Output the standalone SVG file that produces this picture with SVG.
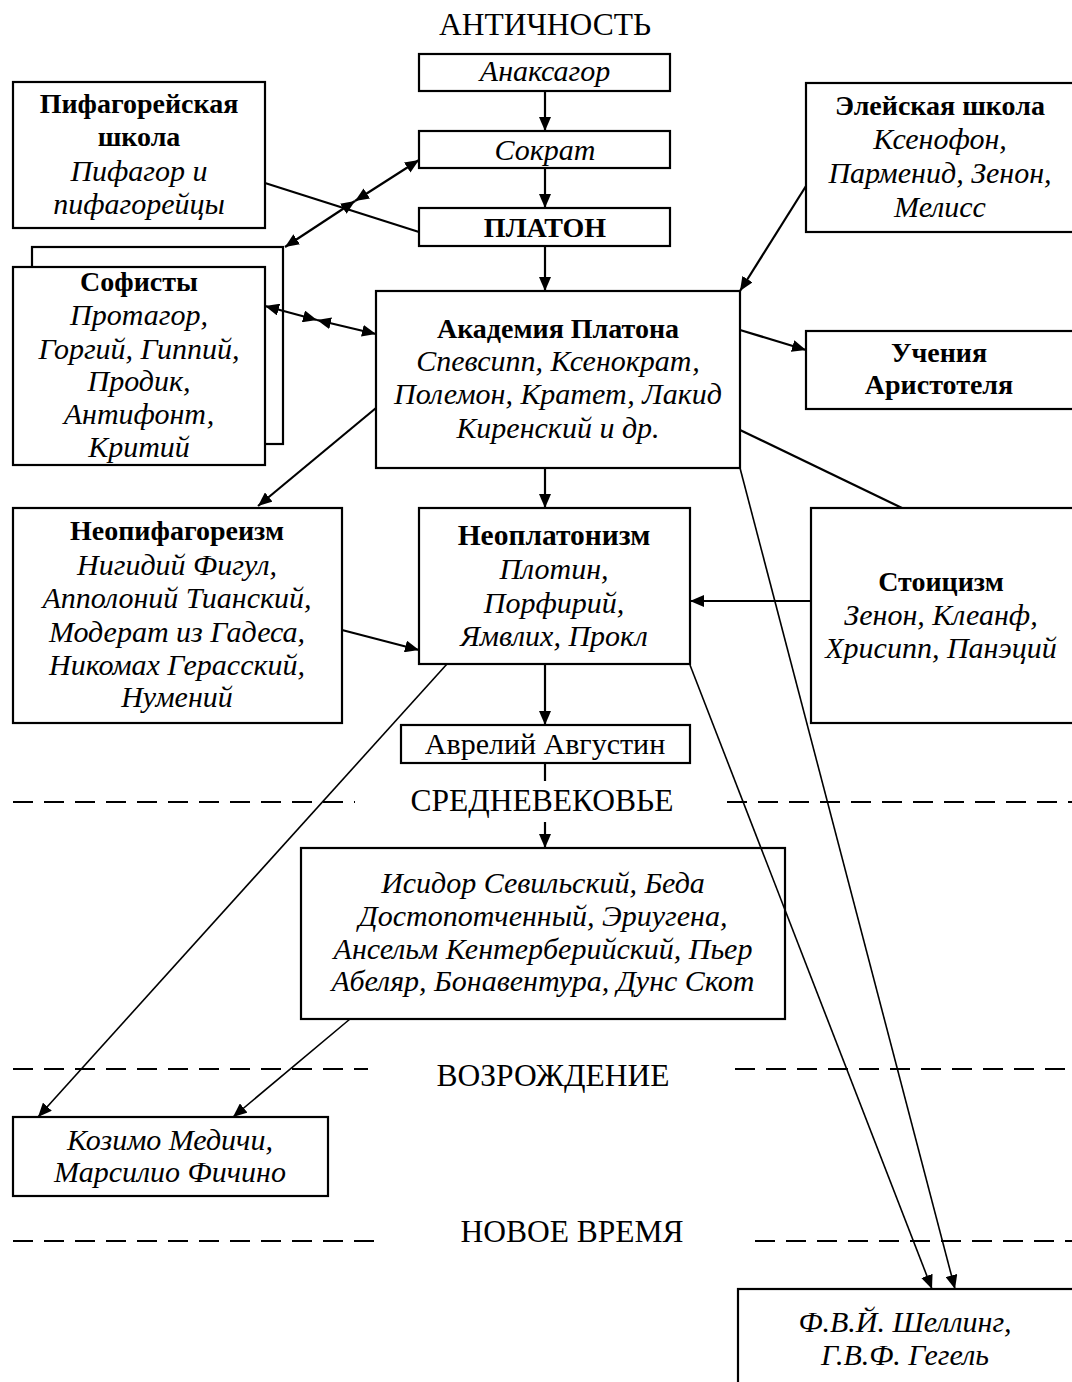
<svg xmlns="http://www.w3.org/2000/svg" width="1072" height="1382" viewBox="0 0 1072 1382">
<defs>
<style>
text{font-family:"Liberation Serif","Times New Roman",serif;font-size:28px;text-anchor:middle;fill:#000}
.b{font-weight:bold}
.i{font-style:italic;font-size:30px}
.r{font-size:31.5px}
.a{font-size:30px}
.box{fill:#fff;stroke:#000;stroke-width:2.2}
.c{fill:none;stroke:#000;stroke-width:2.2}
.t{fill:none;stroke:#000;stroke-width:1.6}
.d{fill:none;stroke:#000;stroke-width:2.2;stroke-dasharray:20 11}
</style>
<marker id="ah" viewBox="0 0 14 12" refX="14" refY="6" markerWidth="14" markerHeight="12" orient="auto-start-reverse" markerUnits="userSpaceOnUse"><path d="M0,0 L14,6 L0,12 z" fill="#000"/></marker>
<marker id="as" viewBox="0 0 14 12" refX="14" refY="6" markerWidth="14" markerHeight="12" orient="auto-start-reverse" markerUnits="userSpaceOnUse"><path d="M0,0 L14,6 L0,12 z" fill="#000"/></marker>
</defs>
<rect width="1072" height="1382" fill="#fff"/>

<g id="era-labels">
<text class="r" x="545" y="35">АНТИЧНОСТЬ</text>
<text class="r" x="542" y="811">СРЕДНЕВЕКОВЬЕ</text>
<text class="r" x="553" y="1086">ВОЗРОЖДЕНИЕ</text>
<text class="r" x="572" y="1242">НОВОЕ ВРЕМЯ</text>
<path class="d" d="M13,802 H355 M727,802 H1072"/>
<path class="d" d="M13,1069 H368 M735,1069 H1072"/>
<path class="d" d="M13,1241 H385 M755,1241 H1072"/>
</g>

<g id="anaxagoras">
<rect class="box" x="419" y="54" width="251" height="37"/>
<text class="i" x="545" y="81">Анаксагор</text>
</g>
<g id="socrates">
<rect class="box" x="419" y="131" width="251" height="37"/>
<text class="i" x="545" y="160">Сократ</text>
</g>
<g id="plato">
<rect class="box" x="419" y="208" width="251" height="38"/>
<text class="b" x="545" y="237">ПЛАТОН</text>
</g>
<g id="pythagorean">
<rect class="box" x="13" y="82" width="252" height="146"/>
<text class="b" x="139" y="113">Пифагорейская</text>
<text class="b" x="139" y="146">школа</text>
<text class="i" x="139" y="181">Пифагор и</text>
<text class="i" x="139" y="214">пифагорейцы</text>
</g>
<g id="sophists">
<rect class="box" x="32" y="247" width="251" height="197"/>
<rect class="box" x="13" y="267" width="252" height="198"/>
<text class="b" x="139" y="291">Софисты</text>
<text class="i" x="139" y="325">Протагор,</text>
<text class="i" x="139" y="359">Горгий, Гиппий,</text>
<text class="i" x="139" y="391">Продик,</text>
<text class="i" x="139" y="424">Антифонт,</text>
<text class="i" x="139" y="457">Критий</text>
</g>
<g id="eleatic">
<rect class="box" x="806" y="83" width="280" height="149"/>
<text class="b" x="940" y="115">Элейская школа</text>
<text class="i" x="940" y="149">Ксенофон,</text>
<text class="i" x="940" y="183">Парменид, Зенон,</text>
<text class="i" x="940" y="217">Мелисс</text>
</g>
<g id="academy">
<rect class="box" x="376" y="291" width="364" height="177"/>
<text class="b" x="558" y="338">Академия Платона</text>
<text class="i" x="558" y="371">Спевсипп, Ксенократ,</text>
<text class="i" x="558" y="404">Полемон, Кратет, Лакид</text>
<text class="i" x="558" y="438">Киренский и др.</text>
</g>
<g id="aristotle">
<rect class="box" x="806" y="331" width="280" height="78"/>
<text class="b" x="939" y="362">Учения</text>
<text class="b" x="939" y="394">Аристотеля</text>
</g>
<g id="neopythagoreanism">
<rect class="box" x="13" y="508" width="329" height="215"/>
<text class="b" x="177" y="540">Неопифагореизм</text>
<text class="i" x="177" y="575">Нигидий Фигул,</text>
<text class="i" x="177" y="608">Апполоний Тианский,</text>
<text class="i" x="177" y="642">Модерат из Гадеса,</text>
<text class="i" x="177" y="675">Никомах Герасский,</text>
<text class="i" x="177" y="707">Нумений</text>
</g>
<g id="neoplatonism">
<rect class="box" x="419" y="508" width="271" height="156"/>
<text class="b" x="554" y="545" style="font-size:29.5px">Неоплатонизм</text>
<text class="i" x="554" y="579">Плотин,</text>
<text class="i" x="554" y="613">Порфирий,</text>
<text class="i" x="554" y="646">Ямвлих, Прокл</text>
</g>
<g id="stoicism">
<rect class="box" x="811" y="508" width="275" height="215"/>
<text class="b" x="941" y="591">Стоицизм</text>
<text class="i" x="941" y="625">Зенон, Клеанф,</text>
<text class="i" x="941" y="658">Хрисипп, Панэций</text>
</g>
<g id="augustine">
<rect class="box" x="401" y="725" width="289" height="38"/>
<text class="a" x="545" y="754">Аврелий Августин</text>
</g>
<g id="medieval">
<rect class="box" x="301" y="848" width="484" height="171"/>
<text class="i" x="543" y="893">Исидор Севильский, Беда</text>
<text class="i" x="543" y="926">Достопотченный, Эриугена,</text>
<text class="i" x="543" y="959">Ансельм Кентерберийский, Пьер</text>
<text class="i" x="543" y="991">Абеляр, Бонавентура, Дунс Скот</text>
</g>
<g id="cosimo">
<rect class="box" x="13" y="1117" width="315" height="79"/>
<text class="i" x="170" y="1150">Козимо Медичи,</text>
<text class="i" x="170" y="1182">Марсилио Фичино</text>
</g>
<g id="schelling">
<rect class="box" x="738" y="1289" width="350" height="110"/>
<text class="i" x="905" y="1332">Ф.В.Й. Шеллинг,</text>
<text class="i" x="905" y="1365">Г.В.Ф. Гегель</text>
</g>

<g id="connectors">
<path class="c" d="M545,91 V131" marker-end="url(#ah)"/>
<path class="c" d="M545,168 V208" marker-end="url(#ah)"/>
<path class="c" d="M545,246 V291" marker-end="url(#ah)"/>
<path class="c" d="M545,468 V508" marker-end="url(#ah)"/>
<path class="c" d="M545,664 V725" marker-end="url(#ah)"/>
<path class="c" d="M545,763 V781"/>
<path class="c" d="M545,822 V848" marker-end="url(#ah)"/>
<path class="c" d="M265,183 L419,232"/>
<path class="c" d="M419,160 L355,201" marker-start="url(#ah)" marker-end="url(#ah)"/>
<path class="c" d="M355,201 L285,247" marker-start="url(#ah)" marker-end="url(#ah)"/>
<path class="c" d="M265,306 L317,320" marker-start="url(#ah)" marker-end="url(#ah)"/>
<path class="c" d="M317,320 L376,334" marker-start="url(#ah)" marker-end="url(#ah)"/>
<path class="c" d="M806,186 L740,291" marker-end="url(#ah)"/>
<path class="c" d="M740,330 L806,350" marker-end="url(#ah)"/>
<path class="c" d="M740,430 L902,508"/>
<path class="c" d="M376,408 L258,506" marker-end="url(#ah)"/>
<path class="c" d="M342,630 L419,650" marker-end="url(#ah)"/>
<path class="c" d="M811,601 H690" marker-end="url(#ah)"/>
<path class="t" d="M740,468 L955,1289" marker-end="url(#as)"/>
<path class="t" d="M690,665 L932,1289" marker-end="url(#as)"/>
<path class="t" d="M447,664 L38,1117" marker-end="url(#as)"/>
<path class="t" d="M350,1019 L233,1117" marker-end="url(#as)"/>
</g>
</svg>
